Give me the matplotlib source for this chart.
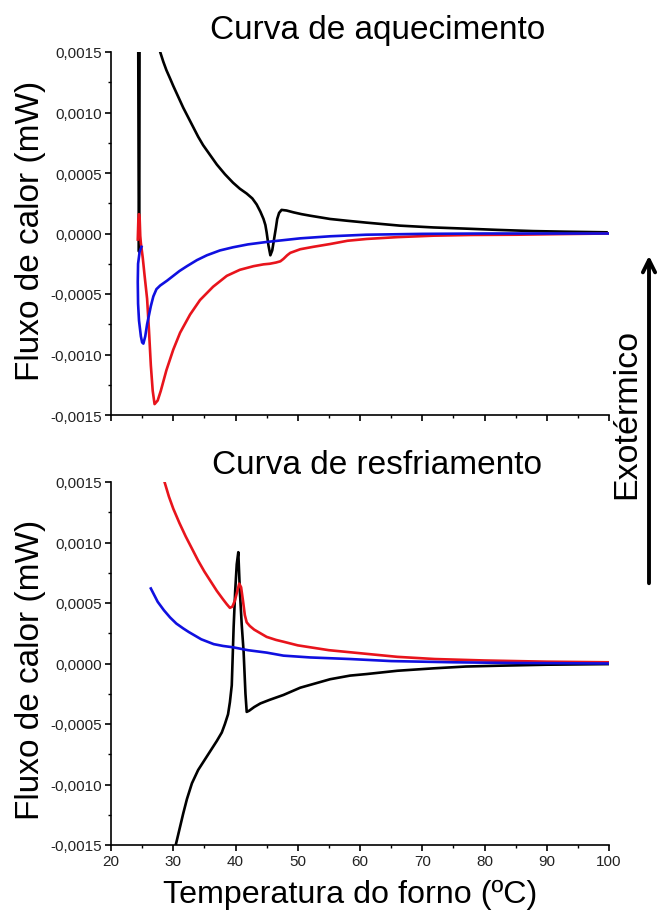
import matplotlib
matplotlib.use("Agg")
import matplotlib.pyplot as plt
from matplotlib.patches import FancyArrowPatch
from matplotlib.ticker import MultipleLocator, FuncFormatter

plt.rcParams['font.family'] = ['Liberation Sans', 'DejaVu Sans']

# curva de aquecimento
aq_preto_t1 = [24.35, 24.45, 24.5, 24.55, 24.6]
aq_preto_y1 = [0.0020, 0.0003, -0.00015, 0.0003, 0.0020]
aq_preto_t2 = [27.6, 27.9, 28.4, 28.9, 29.5, 30.0, 30.8, 31.6, 32.4, 33.2, 34.0, 34.8, 35.9,
               37.0, 38.3, 39.6, 40.7, 41.8, 42.7, 43.4, 44.0, 44.5, 44.8, 45.0, 45.3, 45.6,
               45.9, 46.2, 46.5, 46.7, 47.0, 47.4, 48.2, 49.3, 50.6, 52.0, 55.2, 58.0, 61.0,
               66.4, 71.8, 77.1, 82.0, 87.8, 93.0, 99.6]
aq_preto_y2 = [0.0017, 0.0015, 0.00142, 0.00135, 0.00128, 0.00122, 0.00113, 0.00104, 0.00096,
               0.00088, 0.0008, 0.00073, 0.00065, 0.00057, 0.00049, 0.00042, 0.00037, 0.00033,
               0.00029, 0.00024, 0.00018, 0.00012, 0.00007, 0.00001, -0.0001, -0.00018,
               -0.00014, -0.000045, 0.00005, 0.00012, 0.00017, 0.000195, 0.00019, 0.000175,
               0.00016, 0.000147, 0.00012, 0.000105, 0.00009, 0.000065, 0.00005, 0.00004,
               0.00003, 0.00002, 0.000015, 0.00001]

aq_azul_t = [24.9, 24.6, 24.35, 24.3, 24.35, 24.5, 24.8, 25.0, 25.2, 25.5, 25.8, 26.0, 26.4,
             26.8, 27.3, 27.9, 29.0, 30.0, 31.0, 32.2, 33.8, 35.4, 37.5, 39.6, 42.0, 45.0,
             50.4, 55.2, 61.0, 70.0, 80.0, 90.0, 100.0]
aq_azul_y = [-0.00011, -0.00015, -0.00025, -0.0004, -0.00058, -0.00072, -0.00085, -0.0009,
             -0.00091, -0.00085, -0.00075, -0.0007, -0.0006, -0.00052, -0.00046, -0.00043,
             -0.00039, -0.00035, -0.00031, -0.00027, -0.00022, -0.00018, -0.00014, -0.000114,
             -0.00009, -0.00007, -0.00004, -0.000023, -0.00001, -0.000003, 0.0, 0.0, 0.0]

aq_verm_t = [24.3, 24.4, 24.45, 24.5, 24.55, 24.6, 24.7, 24.8, 24.9, 25.1, 25.4, 25.8, 26.1,
             26.4, 26.7, 27.0, 27.5, 28.0, 28.9, 30.0, 31.1, 32.7, 34.3, 36.4, 38.6, 40.7,
             42.9, 44.5, 45.5, 46.5, 47.2, 47.7, 48.3, 48.8, 50.4, 52.5, 55.2, 58.0, 61.1,
             66.0, 71.8, 78.0, 85.2, 92.0, 100.0]
aq_verm_y = [-0.00005, 0.00012, 0.00002, 0.00016, 0.00004, 0.00013, -0.00002, -0.00008,
             -0.00012, -0.0002, -0.00035, -0.00054, -0.0008, -0.00109, -0.0013, -0.00141,
             -0.00138, -0.0013, -0.00113, -0.00096, -0.00082, -0.00067, -0.00055, -0.00044,
             -0.00035, -0.0003, -0.00027, -0.000255, -0.00025, -0.00024, -0.00023, -0.00021,
             -0.00018, -0.00016, -0.00013, -0.00011, -0.000087, -0.00006, -0.000045,
             -0.00003, -0.000018, -0.000012, -0.00001, -0.000005, 0.0]

# curva de resfriamento
rf_verm_t = [28.6, 29.3, 30.0, 31.0, 32.0, 33.0, 34.0, 35.0, 36.0, 37.0, 38.0, 38.6, 39.1,
             39.5, 39.9, 40.3, 40.6, 40.9, 41.2, 41.5, 41.8, 42.3, 43.0, 44.0, 45.0, 46.5,
             47.7, 50.0, 52.5, 55.0, 58.4, 61.0, 66.0, 72.0, 80.0, 90.0, 100.0]
rf_verm_y = [0.0015, 0.00138, 0.00128, 0.00116, 0.00105, 0.00095, 0.00085, 0.00076, 0.00068,
             0.0006, 0.00053, 0.00049, 0.00046, 0.00047, 0.00052, 0.0006, 0.00066, 0.00063,
             0.00052, 0.0004, 0.00034, 0.00031, 0.00028, 0.00025, 0.00022, 0.000195,
             0.00018, 0.00015, 0.00013, 0.00011, 0.000093, 0.00008, 0.000055, 0.000037,
             0.000025, 0.000015, 0.00001]

rf_azul_t = [26.4, 27.5, 28.5, 29.5, 30.5, 31.6, 32.5, 33.5, 34.5, 35.5, 36.5, 38.0, 39.6,
             42.0, 45.0, 47.7, 52.0, 58.4, 65.0, 75.0, 85.0, 100.0]
rf_azul_y = [0.00062, 0.00051, 0.00044, 0.00038, 0.00033, 0.00029, 0.00026, 0.00023, 0.0002,
             0.00018, 0.00016, 0.000145, 0.000134, 0.00011, 0.00009, 0.000065, 0.00005,
             0.000037, 0.00002, 0.00001, 0.000004, 0.0]

rf_preto_t = [30.4, 31.0, 31.6, 32.2, 33.0, 34.0, 35.0, 36.0, 37.0, 37.8, 38.3, 38.8, 39.1,
              39.4, 39.7, 39.95, 40.2, 40.45, 40.7, 41.0, 41.3, 41.6, 41.8, 42.2, 43.0, 44.0,
              45.5, 47.7, 50.4, 55.2, 58.4, 61.1, 66.0, 71.8, 77.0, 82.5, 90.0, 100.0]
rf_preto_y = [-0.0015, -0.00137, -0.00124, -0.00112, -0.00099, -0.00088, -0.0008, -0.00072,
              -0.00064, -0.00057, -0.0005, -0.00042, -0.00032, -0.00018, 0.0003, 0.0006,
              0.00082, 0.00092, 0.0006, 0.00032, 0.0001, -0.00025, -0.0004, -0.00039,
              -0.00036, -0.00033, -0.0003, -0.00026, -0.0002, -0.00013, -0.0001, -0.000087,
              -0.00006, -0.00004, -0.000025, -0.000018, -0.00001, -0.000005]

W, H = 657, 920
fig = plt.figure(figsize=(W / 100, H / 100), dpi=100)

def px_rect(x0, y0, x1, y1):
    return [x0 / W, 1 - y1 / H, (x1 - x0) / W, (y1 - y0) / H]

ax_top = fig.add_axes(px_rect(111, 53, 609, 416))
ax_bot = fig.add_axes(px_rect(111, 483, 609, 846))

fmt = FuncFormatter(lambda v, p: f"{v:.4f}".replace('.', ',').replace('-0,0000', '0,0000'))

for ax in (ax_top, ax_bot):
    ax.set_xlim(20, 100)
    ax.set_ylim(-0.0015, 0.0015)
    ax.spines['top'].set_visible(False)
    ax.spines['right'].set_visible(False)
    for s in ('left', 'bottom'):
        ax.spines[s].set_linewidth(1.2)
    ax.xaxis.set_major_locator(MultipleLocator(10))
    ax.xaxis.set_minor_locator(MultipleLocator(5))
    ax.yaxis.set_major_locator(MultipleLocator(0.0005))
    ax.yaxis.set_minor_locator(MultipleLocator(0.00025))
    ax.yaxis.set_major_formatter(fmt)
    ax.tick_params(which='major', direction='out', length=4.5, width=1.2,
                   labelsize=11, labelcolor='#222222', pad=2)
    ax.tick_params(which='minor', direction='out', length=2.5, width=1.0)

ax_top.tick_params(axis='x', labelbottom=False)

lw = 1.9
ax_top.plot(aq_preto_t1, aq_preto_y1, color='black', lw=lw)
ax_top.plot(aq_preto_t2, aq_preto_y2, color='black', lw=lw)
ax_top.plot(aq_verm_t, aq_verm_y, color='#e8141c', lw=lw)
ax_top.plot(aq_azul_t, aq_azul_y, color='#1010e0', lw=lw)

ax_bot.plot(rf_preto_t, rf_preto_y, color='black', lw=lw)
ax_bot.plot(rf_verm_t, rf_verm_y, color='#e8141c', lw=lw)
ax_bot.plot(rf_azul_t, rf_azul_y, color='#1010e0', lw=lw)

fig.text(378 / W, 1 - 30 / H, 'Curva de aquecimento', fontsize=24, ha='center', va='center')
fig.text(377 / W, 1 - 466 / H, 'Curva de resfriamento', fontsize=24, ha='center', va='center')
fig.text(31 / W, 1 - 231 / H, 'Fluxo de calor (mW)', fontsize=24, rotation=90,
         ha='center', va='center')
fig.text(31 / W, 1 - 670 / H, 'Fluxo de calor (mW)', fontsize=24, rotation=90,
         ha='center', va='center')
fig.text(350 / W, 1 - 895 / H, 'Temperatura do forno (ºC)', fontsize=23.2,
         ha='center', va='center')
fig.text(627 / W, 1 - 414 / H, 'Exotérmico', fontsize=24.5, rotation=90,
         ha='center', va='center')

seta = FancyArrowPatch((649 / W, 1 - 587 / H), (649 / W, 1 - 254 / H),
                       transform=fig.transFigure, arrowstyle='->', mutation_scale=22,
                       lw=2.8, color='black')
fig.add_artist(seta)

fig.savefig('out.png', dpi=100, facecolor='white')
